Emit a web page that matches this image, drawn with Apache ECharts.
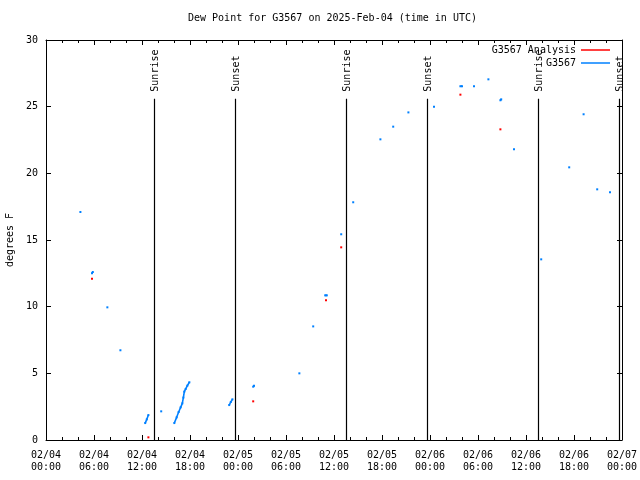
<!DOCTYPE html>
<html>
<head>
<meta charset="utf-8">
<script src="https://cdn.jsdelivr.net/npm/echarts@6/dist/echarts.min.js"></script>
<style>html,body{margin:0;padding:0;background:#fff;}#c{width:640px;height:480px;}</style>
</head>
<body>
<div id="c"></div>
<script>
// Hours since 2025-02-04 00:00 UTC
var xTickLabels = ['02/04\n00:00','02/04\n06:00','02/04\n12:00','02/04\n18:00','02/05\n00:00','02/05\n06:00','02/05\n12:00','02/05\n18:00','02/06\n00:00','02/06\n06:00','02/06\n12:00','02/06\n18:00','02/07\n00:00'];
// G3567 observations (null = gap)
var obsHours = [4.3,null,5.75,5.85,null,7.67,null,9.3,null,12.4,12.6,12.8,null,14.4,null,
  16.04,16.33,16.58,16.83,17.04,17.17,17.29,17.46,17.67,17.92,null,
  22.9,23.1,23.3,null,25.9,26.0,null,31.67,null,33.4,null,34.9,35.1,null,36.9,null,38.4,null,
  41.8,null,43.4,null,45.3,null,48.5,null,51.8,52.0,null,53.5,null,55.3,null,56.8,56.9,null,
  58.5,null,61.9,null,65.4,null,67.2,null,68.9,null,70.5];
var obsDew = [17.1,null,12.5,12.6,null,9.95,null,6.73,null,1.27,1.55,1.87,null,2.15,null,
  1.27,1.7,2.1,2.45,2.75,3.18,3.63,3.83,4.08,4.33,null,
  2.62,2.85,3.05,null,4.0,4.07,null,5.0,null,8.52,null,10.85,10.85,null,15.43,null,17.83,null,
  22.55,null,23.5,null,24.57,null,25.0,null,26.53,26.53,null,26.53,null,27.05,null,25.48,25.55,null,
  21.8,null,13.55,null,20.45,null,24.43,null,18.8,null,18.58];
// G3567 Analysis
var anaHours = [5.75,12.8,25.9,35.0,36.9,51.8,56.8];
var anaDew = [12.1,0.2,2.9,10.48,14.45,25.9,23.3];
// Sun events
var sunHours = [13.53,23.67,37.53,47.67,61.45,71.6];
var sunLabels = ['Sunrise','Sunset','Sunrise','Sunset','Sunrise','Sunset'];
var sunLineTop = 25.6;

function pairs(xs, ys){ var o=[]; for(var i=0;i<xs.length;i++){ o.push(xs[i]===null?'-':[xs[i],ys[i]]);} return o; }

var font = 'DejaVu Sans Mono';
var chart = echarts.init(document.getElementById('c'), null, {renderer:'canvas'});
var sunData = sunHours.map(function(h,i){return [h, sunLabels[i]];});

var tickStyle = {color:'#000', width:1};
chart.setOption({
  animation:false,
  backgroundColor:'#fff',
  title:{text:'Dew Point for G3567 on 2025-Feb-04 (time in UTC)', left:188, top:13, padding:0,
    textStyle:{fontFamily:font, fontSize:10, fontWeight:'normal', color:'#000'}},
  legend:[
    {data:['G3567 Analysis'], right:30, top:45, padding:0, align:'right', icon:'rect', itemWidth:29, itemHeight:1.5,
      textStyle:{fontFamily:font, fontSize:10, color:'#000'}, selectedMode:false},
    {data:['G3567'], right:30, top:58, padding:0, align:'right', icon:'rect', itemWidth:29, itemHeight:1.5,
      textStyle:{fontFamily:font, fontSize:10, color:'#000'}, selectedMode:false}
  ],
  grid:{left:46, right:18, top:40, bottom:40, outerBoundsMode:'none', containLabel:false},
  xAxis:[
    {type:'value', min:0, max:72, interval:6, position:'bottom',
     axisLine:{show:true, onZero:false, lineStyle:tickStyle},
     axisTick:{show:true, inside:true, length:5, lineStyle:tickStyle},
     minorTick:{show:true, splitNumber:3, length:3, lineStyle:tickStyle},
     splitLine:{show:false},
     axisLabel:{margin:9, fontFamily:font, fontSize:10, color:'#000', lineHeight:12,
       formatter:function(v){ return xTickLabels[Math.round(v/6)] || ''; }}},
    {type:'value', min:0, max:72, interval:6, position:'top',
     axisLine:{show:true, onZero:false, lineStyle:tickStyle},
     axisTick:{show:true, inside:true, length:5, lineStyle:tickStyle},
     minorTick:{show:true, splitNumber:3, length:3, lineStyle:tickStyle},
     splitLine:{show:false}, axisLabel:{show:false}}
  ],
  yAxis:[
    {type:'value', min:0, max:30, interval:5, position:'left',
     name:'degrees F', nameLocation:'middle', nameGap:31, nameRotate:90,
     nameTextStyle:{fontFamily:font, fontSize:10, color:'#000'},
     axisLine:{show:true, onZero:false, lineStyle:tickStyle},
     axisTick:{show:true, inside:true, length:5, lineStyle:tickStyle},
     splitLine:{show:false},
     axisLabel:{margin:8, fontFamily:font, fontSize:10, color:'#000'}},
    {type:'value', min:0, max:30, interval:5, position:'right',
     axisLine:{show:true, onZero:false, lineStyle:tickStyle},
     axisTick:{show:true, inside:true, length:5, lineStyle:tickStyle},
     splitLine:{show:false}, axisLabel:{show:false}}
  ],
  series:[
    {type:'custom', name:'sun', xAxisIndex:0, yAxisIndex:0, silent:true, data:sunData, z:1,
     renderItem:function(params, api){
       var top = api.coord([api.value(0), sunLineTop]);
       var bot = api.coord([api.value(0), 0]);
       return {type:'group', children:[
         {type:'line', shape:{x1:Math.round(top[0])+0.5, y1:top[1], x2:Math.round(bot[0])+0.5, y2:bot[1]}, style:{stroke:'#000', lineWidth:1.2}},
         {type:'text', x:Math.round(top[0])+1.5, y:top[1]-7, rotation:Math.PI/2,
          style:{text:sunData[params.dataIndex][1], fontFamily:font, fontSize:10, fill:'#000', align:'left', verticalAlign:'middle'}}
       ]};
     }},
    {type:'line', name:'G3567 Analysis', color:'#ff0000', data:pairs(anaHours, anaDew),
     symbol:'rect', symbolSize:2, showAllSymbol:true, lineStyle:{width:0}, itemStyle:{color:'#ff0000'}, z:3},
    {type:'line', name:'G3567', color:'#0080ff', data:pairs(obsHours, obsDew), connectNulls:false,
     symbol:'rect', symbolSize:2, showAllSymbol:true, lineStyle:{width:1.6, color:'#0080ff'}, itemStyle:{color:'#0080ff'}, z:4}
  ]
});
</script>
</body>
</html>
